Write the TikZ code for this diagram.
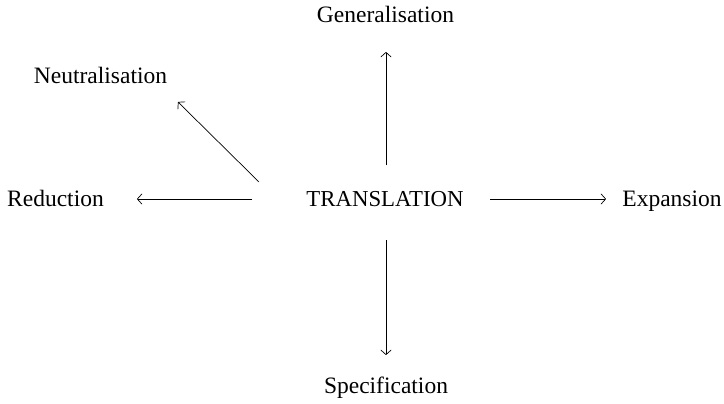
\documentclass[tikz,border=0pt]{standalone}
\usepackage{fontspec}
\setmainfont{Liberation Serif}
\usetikzlibrary{arrows.meta}
\begin{document}
\begin{tikzpicture}[x=1pt,y=-1pt,
  term/.style={inner sep=0pt,anchor=base,font=\fontsize{23.5}{28}\selectfont},
  link/.style={-{Straight Barb[length=4.5pt,width=10pt,line width=0.7pt,round]},line width=0.7pt}]
\useasboundingbox (0,0) rectangle (724,404);
% terms, placed by their baselines
\node[term,font=\fontsize{22.8}{27}\selectfont] (t) at (385,207) {TRANSLATION};
\node[term] (g) at (385.5,23) {Generalisation};
\node[term] (n) at (100.5,84) {Neutralisation};
\node[term] (r) at (55.5,207) {Reduction};
\node[term] (e) at (672,207) {Expansion};
\node[term] (s) at (386,393) {Specification};
% arrows out of the central term
\draw[link] ([shift={(1pt,42pt)}]t.base) -- ([shift={(0.5pt,-29pt)}]g.base);
\draw[link] ([shift={(-126pt,25pt)}]t.base) -- ([shift={(77.5pt,-18pt)}]n.base);
\draw[link] ([shift={(-133pt,8pt)}]t.base) -- ([shift={(81.5pt,8pt)}]r.base);
\draw[link] ([shift={(105pt,8pt)}]t.base) -- ([shift={(-66pt,8pt)}]e.base);
\draw[link] ([shift={(1pt,-33pt)}]t.base) -- ([shift={(0pt,38pt)}]s.base);
\end{tikzpicture}
\end{document}
